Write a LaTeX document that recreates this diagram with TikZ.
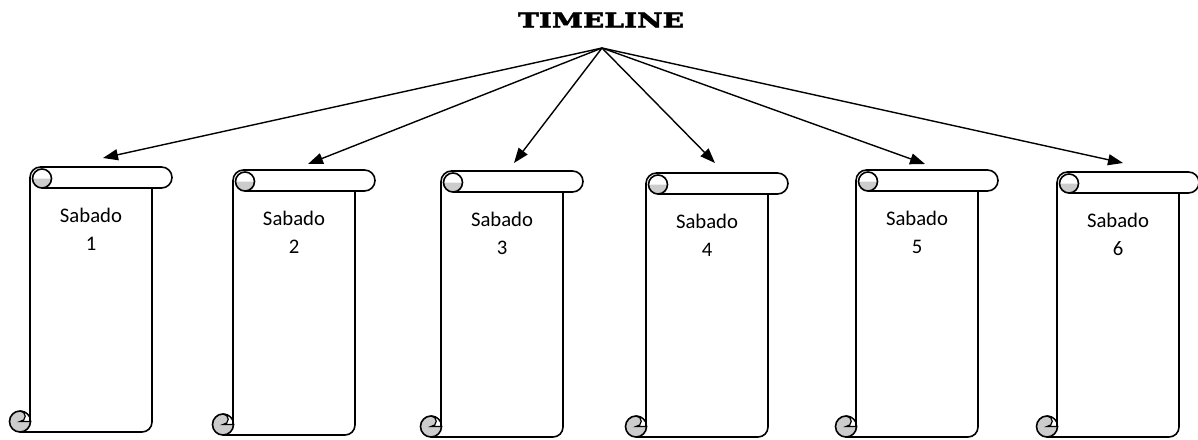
\documentclass[tikz,border=0pt]{standalone}
\usepackage{fontspec}
\usepackage{graphicx}
\setmainfont{Carlito}
\newfontfamily\titlefont[FakeBold=2.5,FakeStretch=1.4]{DejaVu Serif Bold}
\usetikzlibrary{arrows.meta}
\tikzset{
 scrollline/.style={line width=1.6pt, line join=round, line cap=round},
 curlfill/.style={fill=black!20},
 tlarrow/.style={line width=1.4pt, -{Triangle[length=15pt,width=11pt]}},
 lbl/.style={font=\fontsize{20.7}{28}\selectfont, align=center, inner sep=0pt, anchor=north},
 titlestyle/.style={font=\titlefont\fontsize{20}{24}\selectfont, inner sep=0pt}
}
\newcommand{\myscroll}[4]{%
\begin{scope}[shift={(#1,-#2)}]
 \fill[white] (0,-10.5) -- (0,0) -- (142,0) -- (142,-21) -- (122,-21) -- (122,-#3) -- (0,-#3) -- cycle;
 \filldraw[scrollline,curlfill] (-10,-#3+10.5) circle[radius=10.5];
 \filldraw[line width=1.2pt, fill=white] (-10,-#3+21) arc[start angle=90,end angle=0,radius=10.5] -- (-10,-#3+10.5) arc[start angle=-90,end angle=90,radius=5.25] -- cycle;
 \draw[scrollline] (0,-#3+10.5) -- (0,-10.5) arc[start angle=180,end angle=90,radius=10.5] -- (131.5,0) arc[start angle=90,end angle=-90,radius=10.5] -- (12,-21);
 \draw[scrollline] (122,-21) -- (122,-#3+10) arc[start angle=0,end angle=-90,radius=10] -- (-10,-#3);
 \fill[curlfill] (2.5,-11.5) arc[start angle=180,end angle=360,radius=9.5] -- cycle;
 \draw[scrollline] (12,-11.5) circle[radius=9.5];
 \node[lbl] (s#4) at (61,-41) {Sabado\\#4};
\end{scope}}
\begin{document}
\begin{tikzpicture}[x=1pt,y=1pt]
\useasboundingbox (0,0) rectangle (1198,-439);
\fill[white] (0,0) rectangle (1198,-439);
\node[titlestyle] (title) at (601,-20) {TIMELINE};
\coordinate (apex) at (602,-48);
\myscroll{30}{167}{265}{1}
\myscroll{233}{170}{265}{2}
\myscroll{441}{171}{266}{3}
\myscroll{646}{173}{264}{4}
\myscroll{856}{170}{267}{5}
\myscroll{1057}{172}{265}{6}
\coordinate (t1) at (103,-158);
\coordinate (t2) at (308,-164);
\coordinate (t3) at (514,-163);
\coordinate (t4) at (715,-163);
\coordinate (t5) at (925,-164);
\coordinate (t6) at (1123,-163);
\foreach \i in {1,...,6} \draw[tlarrow] (apex) -- (t\i);
\end{tikzpicture}
\end{document}
